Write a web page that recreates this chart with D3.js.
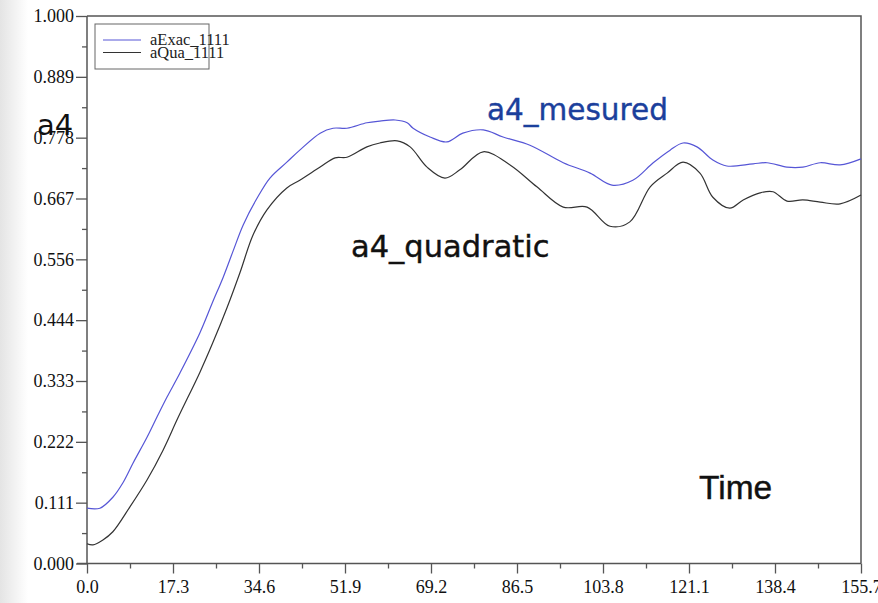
<!DOCTYPE html>
<html>
<head>
<meta charset="utf-8">
<script src="https://cdn.jsdelivr.net/npm/d3@7"></script>
<style>
  body { margin: 0; background: #fff; }
</style>
</head>
<body>
<script>
// values
const timeExac = [0, 2.6, 5.2, 7.2, 9.3, 12.1, 14.1, 16.1, 18.7, 22.7, 25.3, 27.4, 29.4, 31.4, 34.2, 36.8,
  40.2, 42.8, 46.9, 49.5, 52.3, 56.3, 58.9, 62.0, 64.4, 65.6, 69.0, 72.4, 75.6, 79.7, 83.7, 89.1,
  95.8, 101.2, 105.6, 109.8, 113.9, 117.3, 119.9, 122.7, 125.9, 128.7, 134.0, 136.8, 140.8, 144.0,
  147.5, 151.5, 155.7]
const aExac = [0.101, 0.101, 0.121, 0.147, 0.184, 0.231, 0.268, 0.304, 0.348, 0.421, 0.478, 0.523, 0.571, 0.618, 0.667, 0.704,
  0.733, 0.755, 0.786, 0.795, 0.795, 0.805, 0.808, 0.810, 0.805, 0.795, 0.779, 0.770, 0.786, 0.792, 0.779, 0.764,
  0.732, 0.713, 0.691, 0.700, 0.732, 0.755, 0.768, 0.761, 0.737, 0.726, 0.730, 0.732, 0.724, 0.724,
  0.732, 0.728, 0.739]

const timeQua = [0, 1.2, 3.2, 5.2, 8.6, 12.1, 15.3, 18.3, 22.7, 25.3, 28.2, 30.8, 33.4, 36.2, 40.2, 42.8,
  46.9, 49.9, 52.3, 56.3, 58.9, 62.4, 65.0, 68.4, 72.0, 75.0, 79.7, 85.1, 90.5, 95.8, 100.6, 105.2,
  109.2, 113.3, 116.7, 119.9, 123.3, 125.9, 129.3, 132.0, 135.4, 138.0, 140.8, 144.0, 147.5, 151.5, 155.7]
const aQua = [0.036, 0.034, 0.043, 0.058, 0.103, 0.153, 0.207, 0.266, 0.349, 0.403, 0.468, 0.532, 0.600, 0.646, 0.686, 0.700,
  0.724, 0.741, 0.742, 0.761, 0.768, 0.772, 0.761, 0.724, 0.704, 0.719, 0.752, 0.728, 0.688, 0.651, 0.651, 0.616,
  0.624, 0.688, 0.713, 0.733, 0.713, 0.669, 0.649, 0.664, 0.677, 0.679, 0.662, 0.664, 0.660, 0.657, 0.673]

const xTicks = ["0.0", "17.3", "34.6", "51.9", "69.2", "86.5", "103.8", "121.1", "138.4", "155.7"]
const yTicks = ["0.000", "0.111", "0.222", "0.333", "0.444", "0.556", "0.667", "0.778", "0.889", "1.000"]
const legendNames = ["aExac_1111", "aQua_1111"]

const BLUE = "#5656d6"
const DARK = "#333"
const AXIS = "#555"

let width = 878, height = 603;
let mLeft = 87, mRight = 861, mTop = 16, mBottom = 563.5;

let svg = d3.select("body").append("svg").attr("width", width).attr("height", height);

// grey strip on the left edge
let grad = svg.append("defs").append("linearGradient").attr("id", "edge");
grad.append("stop").attr("offset", "0%").attr("stop-color", "#e4e4e4");
grad.append("stop").attr("offset", "100%").attr("stop-color", "#fff");
svg.append("rect").attr("x", 0).attr("y", 0).attr("width", 28).attr("height", height).attr("fill", "url(#edge)");

let x = d3.scaleLinear().domain([0, 155.7]).range([mLeft, mRight]);
let y = d3.scaleLinear().domain([0, 1]).range([mBottom, mTop]);

let xMajor = xTicks.map(Number);
let xMinor = xMajor.slice(1).map((v, i) => (v + xMajor[i]) / 2);
let yMajor = yTicks.map((d, i) => i / 9);
let yMinor = yMajor.slice(1).map((v, i) => (v + yMajor[i]) / 2);

let font = "'Liberation Serif', 'Times New Roman', serif";

// x axis
let gx = svg.append("g").attr("transform", `translate(0,${mBottom})`)
  .call(d3.axisBottom(x).tickValues(xMajor).tickSize(10).tickPadding(4)
    .tickFormat((d, i) => xTicks[i]));
svg.append("g").attr("transform", `translate(0,${mBottom})`)
  .call(d3.axisBottom(x).tickValues(xMinor).tickSize(5).tickFormat(""))
  .select(".domain").remove();

// y axis
let gy = svg.append("g").attr("transform", `translate(${mLeft},0)`)
  .call(d3.axisLeft(y).tickValues(yMajor).tickSize(11).tickPadding(2)
    .tickFormat((d, i) => yTicks[i]));
svg.append("g").attr("transform", `translate(${mLeft},0)`)
  .call(d3.axisLeft(y).tickValues(yMinor).tickSize(5).tickFormat(""))
  .select(".domain").remove();

svg.selectAll(".tick line").attr("stroke", AXIS).attr("stroke-width", 1.3);
svg.selectAll(".domain").attr("stroke", AXIS).attr("stroke-width", 1.5);
svg.selectAll(".tick text").attr("font-family", font).attr("font-size", "18px").attr("fill", "#111");
gx.select(".domain").attr("d", `M${mLeft - 10},0H${mRight}`);
gy.select(".domain").attr("d", `M0,${mBottom}V${mTop}`);
gx.selectAll(".tick text").attr("dy", "0.85em");

// frame top and right
svg.append("path").attr("d", `M${mLeft},${mTop}H${mRight}V${mBottom}`)
  .attr("fill", "none").attr("stroke", AXIS).attr("stroke-width", 1.5);

let lineExac = d3.line().x((d, i) => x(timeExac[i])).y(d => y(d)).curve(d3.curveCatmullRom);
let lineQua = d3.line().x((d, i) => x(timeQua[i])).y(d => y(d)).curve(d3.curveCatmullRom);

svg.append("path").attr("d", lineExac(aExac)).attr("fill", "none").attr("stroke", BLUE).attr("stroke-width", 1.2);
svg.append("path").attr("d", lineQua(aQua)).attr("fill", "none").attr("stroke", DARK).attr("stroke-width", 1.2);

// legend
svg.append("rect").attr("x", 95).attr("y", 24).attr("width", 114).attr("height", 45)
  .attr("fill", "none").attr("stroke", "#666").attr("stroke-width", 1);
let leg = svg.append("g").selectAll("g").data(legendNames).join("g")
  .attr("transform", (d, i) => `translate(0,${40 + i * 12.5})`);
leg.append("line").attr("x1", 103).attr("x2", 141).attr("y1", 0).attr("y2", 0)
  .attr("stroke", (d, i) => i == 0 ? BLUE : DARK).attr("stroke-width", 1);
leg.append("text").text(d => d).attr("x", 150).attr("y", 5)
  .attr("font-family", font).attr("font-size", "16.5px").attr("fill", "#222");

// free labels
let sans = "'DejaVu Sans', Verdana, sans-serif";
svg.append("text").text("a4").attr("x", 37).attr("y", 135)
  .attr("font-family", sans).attr("font-size", "29px").attr("fill", "#111");
svg.append("text").text("a4_mesured").attr("x", 487).attr("y", 120)
  .attr("font-family", sans).attr("font-size", "29.5px").attr("fill", "#1b3f9c")
  .attr("stroke", "#1b3f9c").attr("stroke-width", 0.4);
svg.append("text").text("a4_quadratic").attr("x", 351).attr("y", 257)
  .attr("font-family", sans).attr("font-size", "30.5px").attr("fill", "#111")
  .attr("stroke", "#111").attr("stroke-width", 0.4);
svg.append("text").text("Time").attr("x", 699).attr("y", 499)
  .attr("font-family", "'Liberation Sans', Arial, sans-serif").attr("font-size", "33.5px").attr("fill", "#111")
  .attr("stroke", "#111").attr("stroke-width", 0.4);
</script>
</body>
</html>
